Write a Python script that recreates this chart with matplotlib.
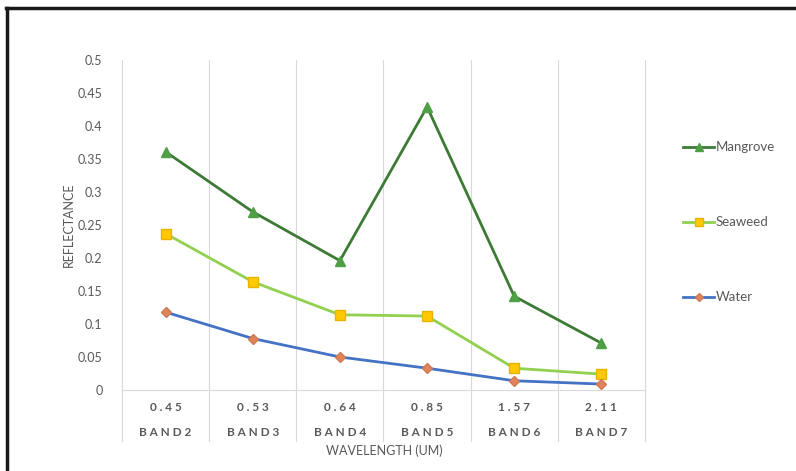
import matplotlib.pyplot as plt
from matplotlib.lines import Line2D

wavelengths = ['0.45', '0.53', '0.64', '0.85', '1.57', '2.11']
bands = ['BAND2', 'BAND3', 'BAND4', 'BAND5', 'BAND6', 'BAND7']
mangrove = [0.361, 0.270, 0.196, 0.429, 0.142, 0.071]
seaweed = [0.237, 0.164, 0.114, 0.112, 0.033, 0.024]
water = [0.118, 0.078, 0.050, 0.033, 0.014, 0.009]

plt.rcParams['font.family'] = ['Lato', 'DejaVu Sans']
grey = '#595959'

fig = plt.figure(figsize=(7.96, 4.71), dpi=100)
W, H = 796, 471
ax = fig.add_axes([122 / W, 1 - 390 / H, (645 - 122) / W, (390 - 60) / H])

x = list(range(len(bands)))
ax.plot(x, mangrove, color='#3d7a35', lw=2, marker='^', ms=7,
        mfc='#4f9f45', mec='#4f9f45', label='Mangrove', zorder=3)
ax.plot(x, seaweed, color='#92d050', lw=2, marker='s', ms=7,
        mfc='#ffc800', mec='#e6b400', label='Seaweed', zorder=3)
ax.plot(x, water, color='#4472c4', lw=2, marker='D', ms=5,
        mfc='#e0845a', mec='#d07a55', label='Water', zorder=3)

ax.set_xlim(-0.5, len(bands) - 0.5)
ax.set_ylim(0, 0.5)
ax.set_yticks([i * 0.05 for i in range(11)])
ax.set_yticklabels(['0' if i == 0 else f'{i * 0.05:g}' for i in range(11)])
ax.tick_params(axis='y', length=0, labelsize=9, labelcolor=grey, pad=14)
ax.set_xticks([])

for s in ['top', 'right', 'left']:
    ax.spines[s].set_visible(False)
ax.spines['bottom'].set_color('#d9d9d9')

# vertical category separators, extending down through the label rows
for b in range(len(bands) + 1):
    ax.plot([b - 0.5, b - 0.5], [0.5, -0.0775], color='#d9d9d9', lw=0.8,
            clip_on=False, zorder=1)

for i in x:
    ax.text(i, -0.026, ' '.join(wavelengths[i]), ha='center', va='center',
            fontsize=8.5, color=grey, weight='bold')
    ax.text(i, -0.064, ' '.join(bands[i]), ha='center', va='center',
            fontsize=8.5, color=grey, weight='bold')

fig.text(384 / W, 1 - 451 / H, 'WAVELENGTH (UM)', ha='center', va='center',
         fontsize=9, color=grey)
fig.text(69 / W, 1 - 225 / H, 'REFLECTANCE', ha='center', va='center',
         rotation=90, fontsize=9, color=grey)

# legend entries stacked far apart at the right
for k, lab in enumerate(['Mangrove', 'Seaweed', 'Water']):
    line = ax.get_lines()[k]
    yy = 1 - (147 + 75 * k) / H
    fig.add_artist(Line2D([683 / W, 714 / W], [yy, yy], color=line.get_color(),
                          lw=2, transform=fig.transFigure))
    fig.add_artist(Line2D([698.5 / W], [yy], marker=line.get_marker(),
                          ms=line.get_markersize() * 0.8,
                          mfc=line.get_markerfacecolor(),
                          mec=line.get_markeredgecolor(), lw=0,
                          transform=fig.transFigure))
    fig.text(716 / W, yy, lab, ha='left', va='center', fontsize=9.5, color=grey)

# black frame along top and left edges
fig.add_artist(Line2D([6 / W, 1], [1 - 8 / H, 1 - 8 / H], color='#1a1a1a',
                      lw=2.5, transform=fig.transFigure))
fig.add_artist(Line2D([7 / W, 7 / W], [0, 1 - 8 / H], color='#1a1a1a',
                      lw=2.5, transform=fig.transFigure))

fig.savefig('out.png', dpi=100)
